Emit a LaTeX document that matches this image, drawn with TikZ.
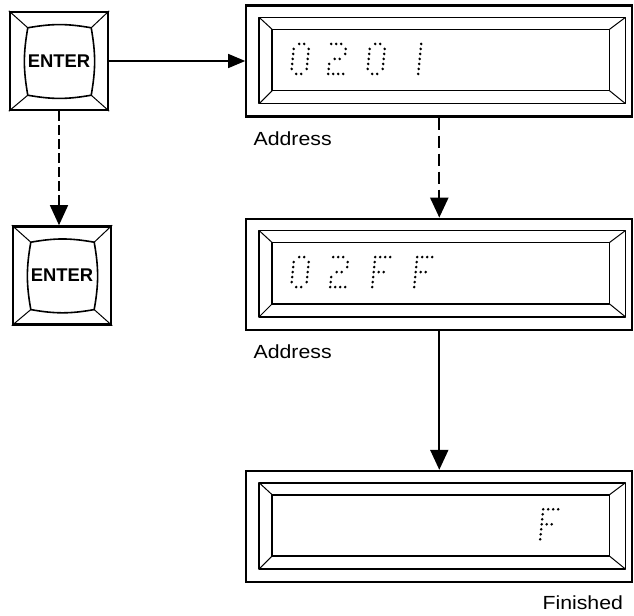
\documentclass[tikz,border=0pt]{standalone}
\usepackage{fontspec}
\setsansfont{Liberation Sans}
\newfontfamily\lblfont[FakeStretch=1.12]{Liberation Sans}
\usetikzlibrary{arrows.meta,positioning,calc}

% dot matrix glyphs, col/row (4x7)
\newcommand{\glyphZero}{1/0,2/0,0/1,3/1,0/2,3/2,0/3,3/3,0/4,3/4,0/5,3/5,1/6,2/6}
\newcommand{\glyphTwo}{0/0,1/0,2/0,3/1,3/2,1/3,2/3,0/4,0/5,0/6,1/6,2/6,3/6}
\newcommand{\glyphOne}{0/0,0/1,0/2,0/3,0/4,0/5,0/6}
\newcommand{\glyphF}{0/0,1/0,2/0,3/0,0/1,0/2,0/3,1/3,2/3,0/4,0/5,0/6}
\newcommand{\dotchar}[3]{%
  \foreach \ci/\ri in #3 {
    \fill ($(#1.north west)+({#2+5*\ci+0.5*(6-\ri)},{39.5+5*\ri})$) circle[radius=0.72pt];
  }}

\begin{document}
\begin{tikzpicture}[x=0.5pt, y=-0.5pt,
key/.style={draw, line width=1.2pt, minimum size=49pt, inner sep=0pt, font=\sffamily\bfseries\fontsize{9.2}{11}\selectfont},
display/.style={draw, line width=1.1pt, minimum width=193pt, minimum height=55.5pt, inner sep=0pt},
lbl/.style={inner sep=0pt, font=\lblfont\fontsize{9.5}{11}\selectfont},
arr/.style={-{Triangle[length=10pt,width=9pt]}, line width=1pt},
dashedarr/.style={dash pattern=on 6pt off 3pt},
bevel/.style={line width=0.8pt, line join=round},
diag/.style={line width=0.5pt}
]
\useasboundingbox[fill=white] (0,0) rectangle (634,616);

\node[key] (enter1) at (59,61) {ENTER};
\node[key, below=57pt of enter1, xshift=1.5pt] (enter2) {ENTER};
\node[display, right=68pt of enter1] (disp1) {};
\node[display, below=50pt of disp1] (disp2) {};
\node[display, below=69.5pt of disp2] (disp3) {};

\node[lbl, below right=7pt and 4pt of disp1.south west] (addr1) {Address};
\node[lbl, below right=7pt and 4pt of disp2.south west] (addr2) {Address};
\node[lbl, below left=6pt and 5pt of disp3.south east] (done) {Finished};

% key bevels
\foreach \k in {enter1,enter2} {
  \path ($(\k.north west)+(19,17)$) coordinate (\k nw)
        ($(\k.north east)+(-18,17)$) coordinate (\k ne)
        ($(\k.south east)+(-18,-16)$) coordinate (\k se)
        ($(\k.south west)+(19,-16)$) coordinate (\k sw);
  \draw[bevel] (\k nw) to[bend left=10] (\k ne) to[bend left=10] (\k se)
    to[bend left=10] (\k sw) to[bend left=10] (\k nw);
  \draw[diag] (\k.north west) -- (\k nw) (\k.north east) -- (\k ne)
    (\k.south east) -- (\k se) (\k.south west) -- (\k sw);
}

% display bevels
\foreach \d in {disp1,disp2,disp3} {
  \path ($(\d.north west)+(14,13)$) coordinate (\d bnw)
        ($(\d.south east)+(-8,-14)$) coordinate (\d bse)
        ($(\d.north west)+(27,25)$) coordinate (\d fnw)
        ($(\d.south east)+(-24,-27)$) coordinate (\d fse);
  \draw[bevel] (\d bnw) rectangle (\d bse) (\d fnw) rectangle (\d fse);
  \draw[diag] (\d bnw) -- (\d fnw) (\d bse) -- (\d fse)
    (\d bnw |- \d bse) -- (\d fnw |- \d fse) (\d bse |- \d bnw) -- (\d fse |- \d fnw);
}

\dotchar{disp1}{46}{\glyphZero}
\dotchar{disp1}{83}{\glyphTwo}
\dotchar{disp1}{122}{\glyphZero}
\dotchar{disp1}{173}{\glyphOne}
\dotchar{disp2}{46}{\glyphZero}
\dotchar{disp2}{85}{\glyphTwo}
\dotchar{disp2}{127}{\glyphF}
\dotchar{disp2}{169}{\glyphF}
\dotchar{disp3}{295}{\glyphF}

\draw[arr, line width=0.7pt, -{Triangle[length=8.5pt,width=7pt]}] (enter1) -- (disp1);
\draw[arr, line width=0.7pt, dash pattern=on 5pt off 2pt] (enter1.south) -- (enter1.south |- enter2.north);
\draw[arr, line width=1.2pt, dashedarr] (disp1.south) -- (disp1.south |- disp2.north);
\draw[arr] (disp2) -- (disp3);
\end{tikzpicture}
\end{document}
